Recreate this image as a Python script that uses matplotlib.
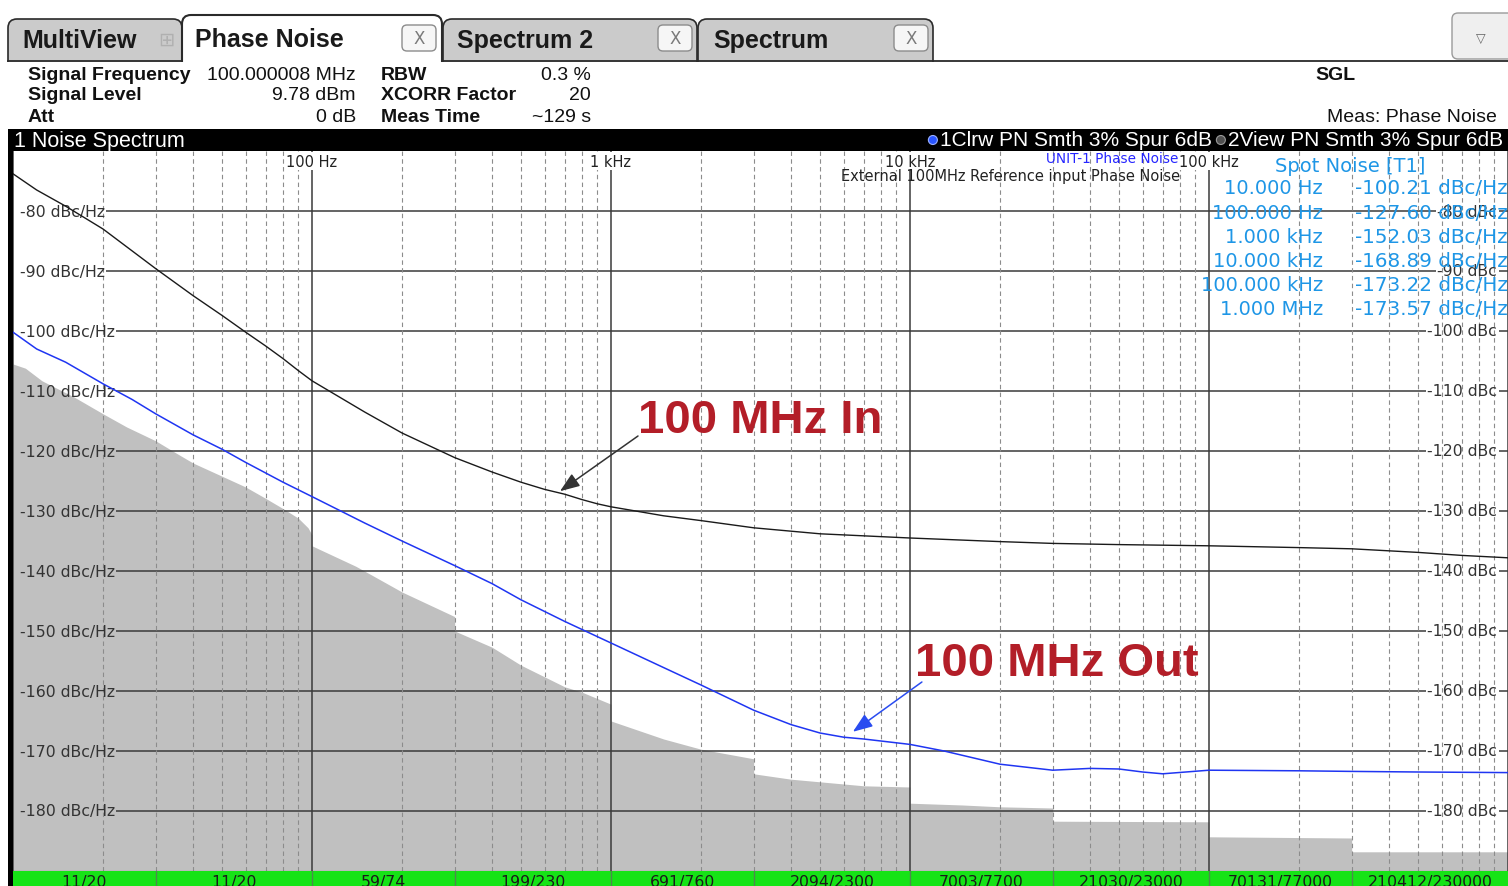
import matplotlib
matplotlib.use("Agg")
import matplotlib.pyplot as plt
import matplotlib.transforms as mtrans
from matplotlib.patches import FancyBboxPatch, Rectangle, Circle
from matplotlib.ticker import LogLocator, NullFormatter
from matplotlib import font_manager

# trace 1 (blue, Clrw): 100 MHz Out
out_freq = [10, 12, 15, 20, 25, 30, 40, 50, 60, 80, 100, 150, 200, 300, 400, 500, 700,
            1e3, 1.5e3, 2e3, 3e3, 4e3, 5e3, 6e3, 7e3, 1e4, 1.3e4, 2e4, 3e4, 4e4, 5e4,
            6e4, 7e4, 1e5, 2e5, 3e5, 5e5, 1e6]
out_db = [-100.2, -103.0, -105.2, -108.8, -111.4, -113.8, -117.3, -119.7, -121.9, -125.2,
          -127.6, -132.0, -135.0, -139.1, -142.1, -144.8, -148.4, -152.0, -156.1, -159.0,
          -163.2, -165.6, -167.0, -167.7, -168.0, -168.9, -170.0, -172.2, -173.2, -172.9,
          -173.0, -173.5, -173.8, -173.2, -173.3, -173.4, -173.5, -173.6]

# trace 2 (black, View): 100 MHz In
in_freq = [10, 12, 15, 20, 30, 40, 50, 60, 70, 80, 90, 100, 150, 200, 300, 400, 500, 600,
           700, 800, 900, 1e3, 1.5e3, 2e3, 3e3, 5e3, 1e4, 2e4, 3e4, 5e4, 1e5, 2e5, 3e5,
           5e5, 7e5, 1e6]
in_db = [-73.8, -76.5, -79.2, -83.0, -89.6, -94.1, -97.4, -100.2, -102.5, -104.6, -106.6,
         -108.3, -113.5, -117.0, -121.1, -123.5, -125.2, -126.4, -127.2, -128.1, -128.8,
         -129.3, -130.8, -131.6, -132.8, -133.8, -134.5, -135.1, -135.4, -135.6, -135.8,
         -136.1, -136.3, -136.9, -137.4, -137.8]

# gray xcorr floor (steps at the half-decade segment edges)
floor_freq = [10, 11, 12.5, 16, 20, 24, 30, 35, 40, 50, 60, 70, 80, 90, 97, 100,
              100, 105, 140, 160, 200, 300,
              300, 400, 500, 700, 800, 1000,
              1000, 1500, 2000, 3000,
              3000, 4000, 7000, 10000,
              10000, 15000, 20000, 30000,
              30000, 100000,
              100000, 300000,
              300000, 1e6]
floor_db = [-105.5, -106.2, -108.3, -111.0, -113.8, -116.0, -118.3, -120.3, -122.0, -124.2,
            -126.0, -127.9, -129.6, -131.2, -132.8, -134.0,
            -135.8, -136.3, -139.2, -140.8, -143.5, -147.6,
            -150.0, -152.7, -155.7, -159.3, -160.2, -162.2,
            -165.0, -168.0, -169.7, -171.3,
            -173.8, -174.7, -175.8, -176.0,
            -178.7, -179.0, -179.3, -179.5,
            -181.7, -181.8,
            -184.3, -184.5,
            -186.8, -186.8]

seg_edges = [10, 30, 100, 300, 1e3, 3e3, 1e4, 3e4, 1e5, 3e5, 1e6]
seg_counts = ["11/20", "11/20", "59/74", "199/230", "691/760", "2094/2300", "7003/7700",
              "21030/23000", "70131/77000", "210412/230000"]

spot_freq = ["10.000 Hz", "100.000 Hz", "1.000 kHz", "10.000 kHz", "100.000 kHz", "1.000 MHz"]
spot_val = ["-100.21 dBc/Hz", "-127.60 dBc/Hz", "-152.03 dBc/Hz", "-168.89 dBc/Hz",
            "-173.22 dBc/Hz", "-173.57 dBc/Hz"]

levels = [-80, -90, -100, -110, -120, -130, -140, -150, -160, -170, -180]
decade_freqs = [100, 1e3, 1e4, 1e5]
decade_labels = ["100 Hz", "1 kHz", "10 kHz", "100 kHz"]

W, H = 1508, 887
names = {f.name for f in font_manager.fontManager.ttflist}
if "Liberation Sans Narrow" in names:
    big_family, big_size = "Liberation Sans Narrow", 39
else:
    big_family, big_size = "Liberation Sans", 34
ui_font = "Liberation Sans"

fig = plt.figure(figsize=(W / 100, H / 100), dpi=100)


def fxy(x, y):
    return x / W, 1 - y / H


# --- window chrome, pixel coordinates ---
ui = fig.add_axes([0, 0, 1, 1])
ui.set_xlim(0, W)
ui.set_ylim(H, 0)
ui.axis("off")


def tab(x0, x1, y0, fc, lw=1.2):
    ui.add_patch(FancyBboxPatch((x0, y0), x1 - x0, 90 - y0,
                                boxstyle="round,pad=0,rounding_size=9",
                                fc=fc, ec="#2a2a2a", lw=lw))


def close_btn(x0):
    ui.add_patch(FancyBboxPatch((x0, 26), 34, 26, boxstyle="round,pad=0,rounding_size=5",
                                fc="#f6f6f6", ec="#8c8c8c", lw=1))
    ui.text(x0 + 17, 39.5, "X", ha="center", va="center", fontsize=12, color="#7a7a7a")


tab(698, 933, 20, "#cbcbcb")
tab(443, 697, 20, "#cbcbcb")
tab(8, 182, 20, "#cbcbcb")
tab(182, 442, 16, "white", lw=1.5)
ui.add_patch(FancyBboxPatch((1452, 14), 70, 46, boxstyle="round,pad=0,rounding_size=6",
                            fc="#efefef", ec="#9a9a9a", lw=1))
ui.text(1481, 38, "\u25bd", ha="center", va="center", fontsize=9, color="#666666")
ui.add_patch(Rectangle((0, 62.5), W, 70, fc="white", ec="none"))
ui.plot([8, 182], [62, 62], color="#2a2a2a", lw=1.3)
ui.plot([442, W], [62, 62], color="#2a2a2a", lw=1.3)

tab_kw = dict(va="center", fontsize=18, fontweight="bold", family=ui_font, color="#1a1a1a")
ui.text(22, 41, "MultiView", **tab_kw)
ui.text(195, 40, "Phase Noise", **tab_kw)
ui.text(457, 41, "Spectrum 2", **tab_kw)
ui.text(713, 41, "Spectrum", **tab_kw)
ui.text(166, 40, "\u229e", ha="center", va="center", fontsize=14, color="#b0b0b0")
close_btn(402)
close_btn(658)
close_btn(894)

hk = dict(va="center", fontsize=14, family=ui_font, color="#111111")
hb = dict(hk, fontweight="bold")
ui.text(28, 75, "Signal Frequency", **hb)
ui.text(28, 96, "Signal Level", **hb)
ui.text(28, 117, "Att", **hb)
ui.text(356, 75, "100.000008 MHz", ha="right", **hk)
ui.text(356, 96, "9.78 dBm", ha="right", **hk)
ui.text(356, 117, "0 dB", ha="right", **hk)
ui.text(381, 75, "RBW", **hb)
ui.text(381, 96, "XCORR Factor", **hb)
ui.text(381, 117, "Meas Time", **hb)
ui.text(591, 75, "0.3 %", ha="right", **hk)
ui.text(591, 96, "20", ha="right", **hk)
ui.text(591, 117, "~129 s", ha="right", **hk)
ui.text(1315, 75, "SGL", **hb)
ui.text(1497, 117, "Meas: Phase Noise", ha="right", **hk)

# black title bar and left border
ui.add_patch(Rectangle((8, 130), W - 8, 22, fc="black", ec="none"))
ui.add_patch(Rectangle((8, 130), 5, H - 130, fc="black", ec="none"))
bar_kw = dict(va="center", fontsize=15, family=ui_font, color="white")
ui.text(14, 141, "1 Noise Spectrum", **dict(bar_kw, fontsize=15.5))

# --- plot area ---
ax = fig.add_axes([13 / W, 15 / H, (W - 13) / W, 720 / H])
ax.set_xscale("log")
ax.set_xlim(10, 1e6)
ax.set_ylim(-190, -70)
ax.xaxis.set_major_locator(LogLocator(base=10, numticks=50))
ax.xaxis.set_minor_locator(LogLocator(base=10, subs=range(2, 10), numticks=50))
ax.xaxis.set_major_formatter(NullFormatter())
ax.xaxis.set_minor_formatter(NullFormatter())
ax.tick_params(which="both", length=0)
ax.set_yticks([])
ax.grid(True, which="major", axis="x", color="#3a3a3a", lw=1.1)
ax.grid(True, which="minor", axis="x", color="#8c8c8c", lw=0.8, ls=(0, (4, 3)))
for s in ["top", "left", "right"]:
    ax.spines[s].set_visible(False)
ax.spines["bottom"].set_color("#444444")

ax.fill_between(floor_freq, floor_db, -190, color="#c0c0c0", lw=0, zorder=0.5)
ax.plot(in_freq, in_db, color="#1a1a1a", lw=1.0, zorder=3)
ax.plot(out_freq, out_db, color="#1f35f2", lw=1.1, zorder=3)

yt = mtrans.blended_transform_factory(ax.transAxes, ax.transData)
xt = mtrans.blended_transform_factory(ax.transData, ax.transAxes)
lab_kw = dict(va="center", fontsize=11.3, color="#333333", transform=yt, zorder=2)
left_lbl = [ax.text(7 / 1495, lv, f"{lv} dBc/Hz", ha="left", **lab_kw) for lv in levels]
right_lbl = [ax.text(1484 / 1495, lv, f"{lv} dBc", ha="right", **lab_kw) for lv in levels]
for f, s in zip(decade_freqs, decade_labels):
    ax.text(f, 0.986, s, transform=xt, ha="center", va="center", fontsize=10.5, color="#222222",
            bbox=dict(fc="white", ec="none", pad=1.0), zorder=2)

fig.canvas.draw()
r = fig.canvas.get_renderer()
inv = ax.transData.inverted()
for lv, tl, tr in zip(levels, left_lbl, right_lbl):
    bl = tl.get_window_extent(r)
    br = tr.get_window_extent(r)
    x0 = inv.transform((bl.x1 + 1, 0))[0]
    x1 = inv.transform((br.x0 - 1, 0))[0]
    x2 = inv.transform((br.x1 + 2, 0))[0]
    ax.hlines(lv, x0, x1, color="#3a3a3a", lw=1.1, zorder=1.5)
    ax.hlines(lv, x2, 1e6, color="#3a3a3a", lw=1.1, zorder=1.5)

# annotations
ax.annotate("", xy=(675, -126.7), xytext=(1231, -117.5),
            arrowprops=dict(arrowstyle="-|>,head_length=0.8,head_width=0.3", color="#333333",
                            lw=1.1, mutation_scale=15, shrinkA=0, shrinkB=0), zorder=4)
ax.annotate("", xy=(6440, -166.8), xytext=(10960, -158.5),
            arrowprops=dict(arrowstyle="-|>,head_length=0.8,head_width=0.3", color="#2a4cf0",
                            lw=1.1, mutation_scale=15, shrinkA=0, shrinkB=0), zorder=4)
ax.text(3150, -114.8, "100 MHz In", ha="center", va="center", fontsize=big_size,
        fontweight="bold", family=big_family, color="#b31e28", zorder=4)
ax.text(31050, -155.3, "100 MHz Out", ha="center", va="center", fontsize=big_size,
        fontweight="bold", family=big_family, color="#b31e28", zorder=4)

# texts above the plot
fig.text(*fxy(1178, 159), "UNIT-1 Phase Noise", ha="right", va="center", fontsize=9.8,
         color="#2626ff", zorder=5)
fig.text(*fxy(1180, 176), "External 100MHz Reference input Phase Noise", ha="right",
         va="center", fontsize=10.5, color="#222222", zorder=5)
spot_c = "#1e96e6"
fig.text(*fxy(1350, 166), "Spot Noise [T1]", ha="center", va="center", fontsize=14,
         color=spot_c, zorder=5)
for i, (sf, sv) in enumerate(zip(spot_freq, spot_val)):
    y = 189 + i * 24.2
    fig.text(*fxy(1323, y), sf, ha="right", va="center", fontsize=14, color=spot_c, zorder=5)
    fig.text(*fxy(1508, y), sv, ha="right", va="center", fontsize=14.3, color=spot_c, zorder=5)

# trace info on the black bar, placed right to left
uinv = ui.transData.inverted()
t2 = ui.text(1503, 141, "2View PN Smth 3% Spur 6dB", ha="right", **bar_kw)
lx = uinv.transform((t2.get_window_extent(r).x0, 0))[0]
ui.add_patch(Circle((lx - 7, 141), 4.5, fc="#505050", ec="#9a9a9a", lw=0.8))
t1 = ui.text(lx - 16, 141, "1Clrw PN Smth 3% Spur 6dB", ha="right", **bar_kw)
lx = uinv.transform((t1.get_window_extent(r).x0, 0))[0]
ui.add_patch(Circle((lx - 7, 141), 4.5, fc="#2a55ff", ec="#9ab0ff", lw=0.8))

# green sweep status bar
gax = fig.add_axes([13 / W, 0, (W - 13) / W, 15 / H])
gax.set_xscale("log")
gax.set_xlim(10, 1e6)
gax.set_ylim(0, 1)
gax.set_facecolor("#16e316")
gax.set_xticks([])
gax.set_yticks([])
gax.minorticks_off()
for s in gax.spines.values():
    s.set_visible(False)
for e in seg_edges[1:-1]:
    gax.axvline(e, color="#4d8a4d", lw=1.0)
for a, b, s in zip(seg_edges[:-1], seg_edges[1:], seg_counts):
    gax.text((a * b) ** 0.5, 0.33, s, ha="center", va="center", fontsize=11.3,
             color="#1a1a1a", clip_on=False)

fig.savefig("out.png", dpi=100)
